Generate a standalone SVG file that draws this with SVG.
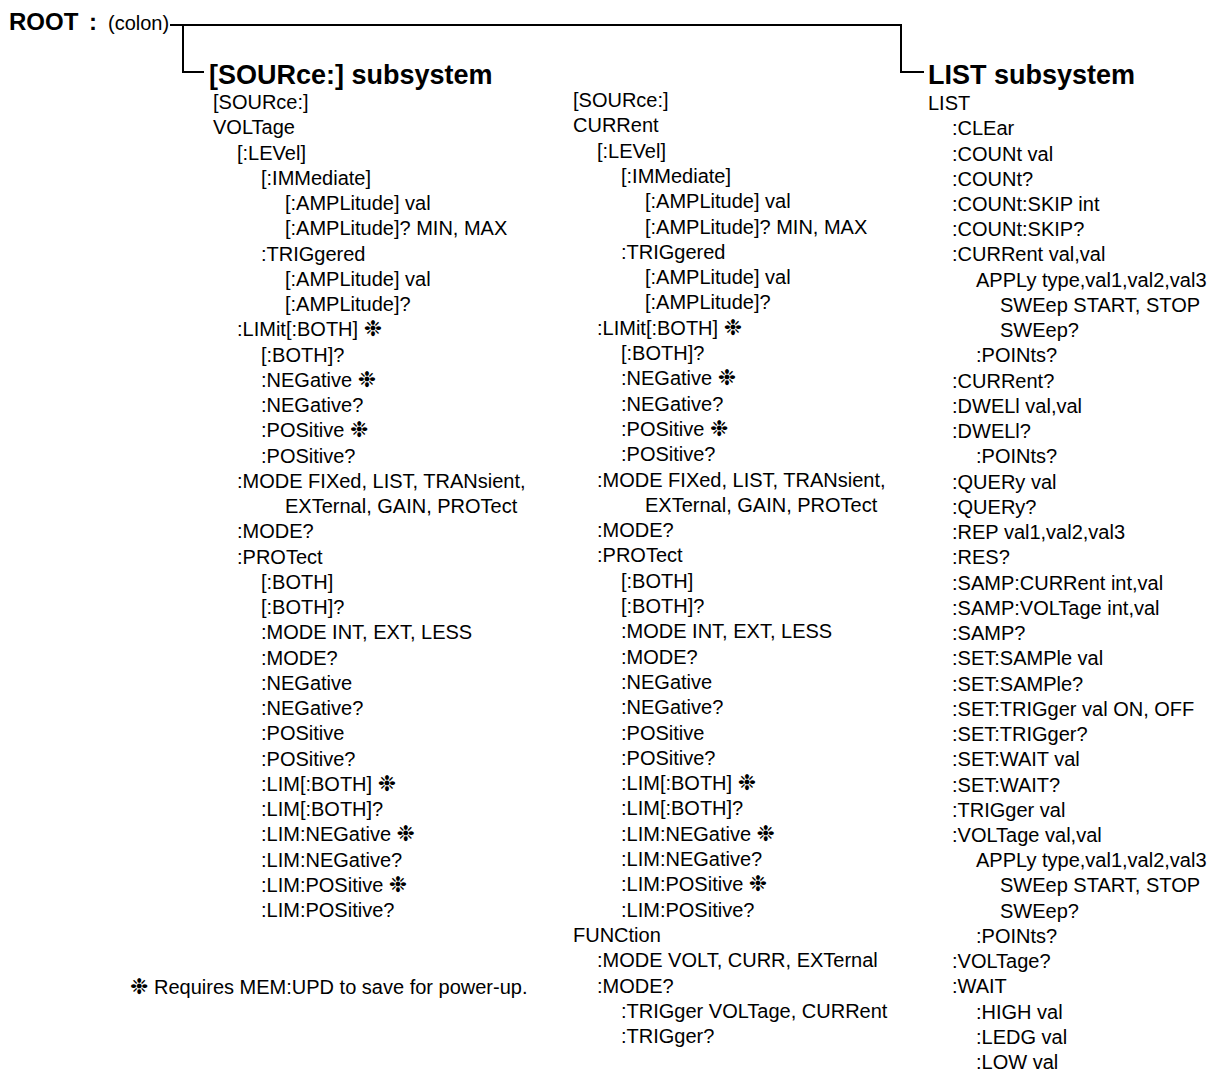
<svg xmlns="http://www.w3.org/2000/svg" width="1208" height="1076" viewBox="0 0 1208 1076">
<style>
text{font-family:"Liberation Sans",Arial,sans-serif;font-size:20px;fill:#000}
.h{font-weight:bold;font-size:27px}
.root{font-weight:bold;font-size:24px}
.st{font-family:"DejaVu Sans",sans-serif;font-size:22px;font-weight:bold}
.ln{fill:none;stroke:#000;stroke-width:2}
</style>
<rect width="1208" height="1076" fill="#fff"/>
<g id="connectors">
<path class="ln" d="M170 25 H901 V72 H924"/>
<path class="ln" d="M183 25 V72 H204"/>
</g>
<g id="root">
<text class="root" x="9" y="30">ROOT<tspan x="89">:</tspan></text>
<text x="108" y="30">(colon)</text>
</g>
<g id="source-subsystem">
<text class="h" x="209" y="84">[SOURce:] subsystem</text>
<g id="voltage">
<text x="213" y="109">[SOURce:]</text>
<text x="213" y="134.3">VOLTage</text>
<text x="237" y="159.5">[:LEVel]</text>
<text x="261" y="184.8">[:IMMediate]</text>
<text x="285" y="210">[:AMPLitude] val</text>
<text x="285" y="235.3">[:AMPLitude]? MIN, MAX</text>
<text x="261" y="260.5">:TRIGgered</text>
<text x="285" y="285.8">[:AMPLitude] val</text>
<text x="285" y="311">[:AMPLitude]?</text>
<text x="237" y="336.3">:LIMit[:BOTH] <tspan class="st">❉</tspan></text>
<text x="261" y="361.5">[:BOTH]?</text>
<text x="261" y="386.8">:NEGative <tspan class="st">❉</tspan></text>
<text x="261" y="412">:NEGative?</text>
<text x="261" y="437.3">:POSitive <tspan class="st">❉</tspan></text>
<text x="261" y="462.5">:POSitive?</text>
<text x="237" y="487.8">:MODE FIXed, LIST, TRANsient,</text>
<text x="285" y="513">EXTernal, GAIN, PROTect</text>
<text x="237" y="538.3">:MODE?</text>
<text x="237" y="563.5">:PROTect</text>
<text x="261" y="588.8">[:BOTH]</text>
<text x="261" y="614">[:BOTH]?</text>
<text x="261" y="639.3">:MODE INT, EXT, LESS</text>
<text x="261" y="664.5">:MODE?</text>
<text x="261" y="689.8">:NEGative</text>
<text x="261" y="715">:NEGative?</text>
<text x="261" y="740.3">:POSitive</text>
<text x="261" y="765.5">:POSitive?</text>
<text x="261" y="790.8">:LIM[:BOTH] <tspan class="st">❉</tspan></text>
<text x="261" y="816">:LIM[:BOTH]?</text>
<text x="261" y="841.3">:LIM:NEGative <tspan class="st">❉</tspan></text>
<text x="261" y="866.5">:LIM:NEGative?</text>
<text x="261" y="891.8">:LIM:POSitive <tspan class="st">❉</tspan></text>
<text x="261" y="917">:LIM:POSitive?</text>
</g>
<g id="current">
<text x="573" y="107">[SOURce:]</text>
<text x="573" y="132.3">CURRent</text>
<text x="597" y="157.6">[:LEVel]</text>
<text x="621" y="182.9">[:IMMediate]</text>
<text x="645" y="208.2">[:AMPLitude] val</text>
<text x="645" y="233.5">[:AMPLitude]? MIN, MAX</text>
<text x="621" y="258.8">:TRIGgered</text>
<text x="645" y="284.1">[:AMPLitude] val</text>
<text x="645" y="309.4">[:AMPLitude]?</text>
<text x="597" y="334.7">:LIMit[:BOTH] <tspan class="st">❉</tspan></text>
<text x="621" y="360">[:BOTH]?</text>
<text x="621" y="385.3">:NEGative <tspan class="st">❉</tspan></text>
<text x="621" y="410.6">:NEGative?</text>
<text x="621" y="435.9">:POSitive <tspan class="st">❉</tspan></text>
<text x="621" y="461.2">:POSitive?</text>
<text x="597" y="486.5">:MODE FIXed, LIST, TRANsient,</text>
<text x="645" y="511.8">EXTernal, GAIN, PROTect</text>
<text x="597" y="537.1">:MODE?</text>
<text x="597" y="562.4">:PROTect</text>
<text x="621" y="587.7">[:BOTH]</text>
<text x="621" y="613">[:BOTH]?</text>
<text x="621" y="638.3">:MODE INT, EXT, LESS</text>
<text x="621" y="663.6">:MODE?</text>
<text x="621" y="688.9">:NEGative</text>
<text x="621" y="714.2">:NEGative?</text>
<text x="621" y="739.5">:POSitive</text>
<text x="621" y="764.8">:POSitive?</text>
<text x="621" y="790.1">:LIM[:BOTH] <tspan class="st">❉</tspan></text>
<text x="621" y="815.4">:LIM[:BOTH]?</text>
<text x="621" y="840.7">:LIM:NEGative <tspan class="st">❉</tspan></text>
<text x="621" y="866">:LIM:NEGative?</text>
<text x="621" y="891.3">:LIM:POSitive <tspan class="st">❉</tspan></text>
<text x="621" y="916.6">:LIM:POSitive?</text>
</g>
<g id="function">
<text x="573" y="941.9">FUNCtion</text>
<text x="597" y="967.2">:MODE VOLT, CURR, EXTernal</text>
<text x="597" y="992.5">:MODE?</text>
<text x="621" y="1017.8">:TRIGger VOLTage, CURRent</text>
<text x="621" y="1043.1">:TRIGger?</text>
</g>
</g>
<g id="list-subsystem">
<text class="h" x="928" y="84">LIST subsystem</text>
<text x="928" y="110">LIST</text>
<text x="952" y="135.2">:CLEar</text>
<text x="952" y="160.5">:COUNt val</text>
<text x="952" y="185.7">:COUNt?</text>
<text x="952" y="211">:COUNt:SKIP int</text>
<text x="952" y="236.2">:COUNt:SKIP?</text>
<text x="952" y="261.4">:CURRent val,val</text>
<text x="976" y="286.7">APPLy type,val1,val2,val3</text>
<text x="1000" y="311.9">SWEep START, STOP</text>
<text x="1000" y="337.2">SWEep?</text>
<text x="976" y="362.4">:POINts?</text>
<text x="952" y="387.6">:CURRent?</text>
<text x="952" y="412.9">:DWELl val,val</text>
<text x="952" y="438.1">:DWELl?</text>
<text x="976" y="463.4">:POINts?</text>
<text x="952" y="488.6">:QUERy val</text>
<text x="952" y="513.8">:QUERy?</text>
<text x="952" y="539.1">:REP val1,val2,val3</text>
<text x="952" y="564.3">:RES?</text>
<text x="952" y="589.6">:SAMP:CURRent int,val</text>
<text x="952" y="614.8">:SAMP:VOLTage int,val</text>
<text x="952" y="640">:SAMP?</text>
<text x="952" y="665.3">:SET:SAMPle val</text>
<text x="952" y="690.5">:SET:SAMPle?</text>
<text x="952" y="715.8">:SET:TRIGger val ON, OFF</text>
<text x="952" y="741">:SET:TRIGger?</text>
<text x="952" y="766.2">:SET:WAIT val</text>
<text x="952" y="791.5">:SET:WAIT?</text>
<text x="952" y="816.7">:TRIGger val</text>
<text x="952" y="842">:VOLTage val,val</text>
<text x="976" y="867.2">APPLy type,val1,val2,val3</text>
<text x="1000" y="892.4">SWEep START, STOP</text>
<text x="1000" y="917.7">SWEep?</text>
<text x="976" y="942.9">:POINts?</text>
<text x="952" y="968.2">:VOLTage?</text>
<text x="952" y="993.4">:WAIT</text>
<text x="976" y="1018.6">:HIGH val</text>
<text x="976" y="1043.9">:LEDG val</text>
<text x="976" y="1069.1">:LOW val</text>
</g>
<g id="footnote">
<text x="130" y="994"><tspan class="st">❉</tspan> Requires MEM:UPD to save for power-up.</text>
</g>
</svg>
